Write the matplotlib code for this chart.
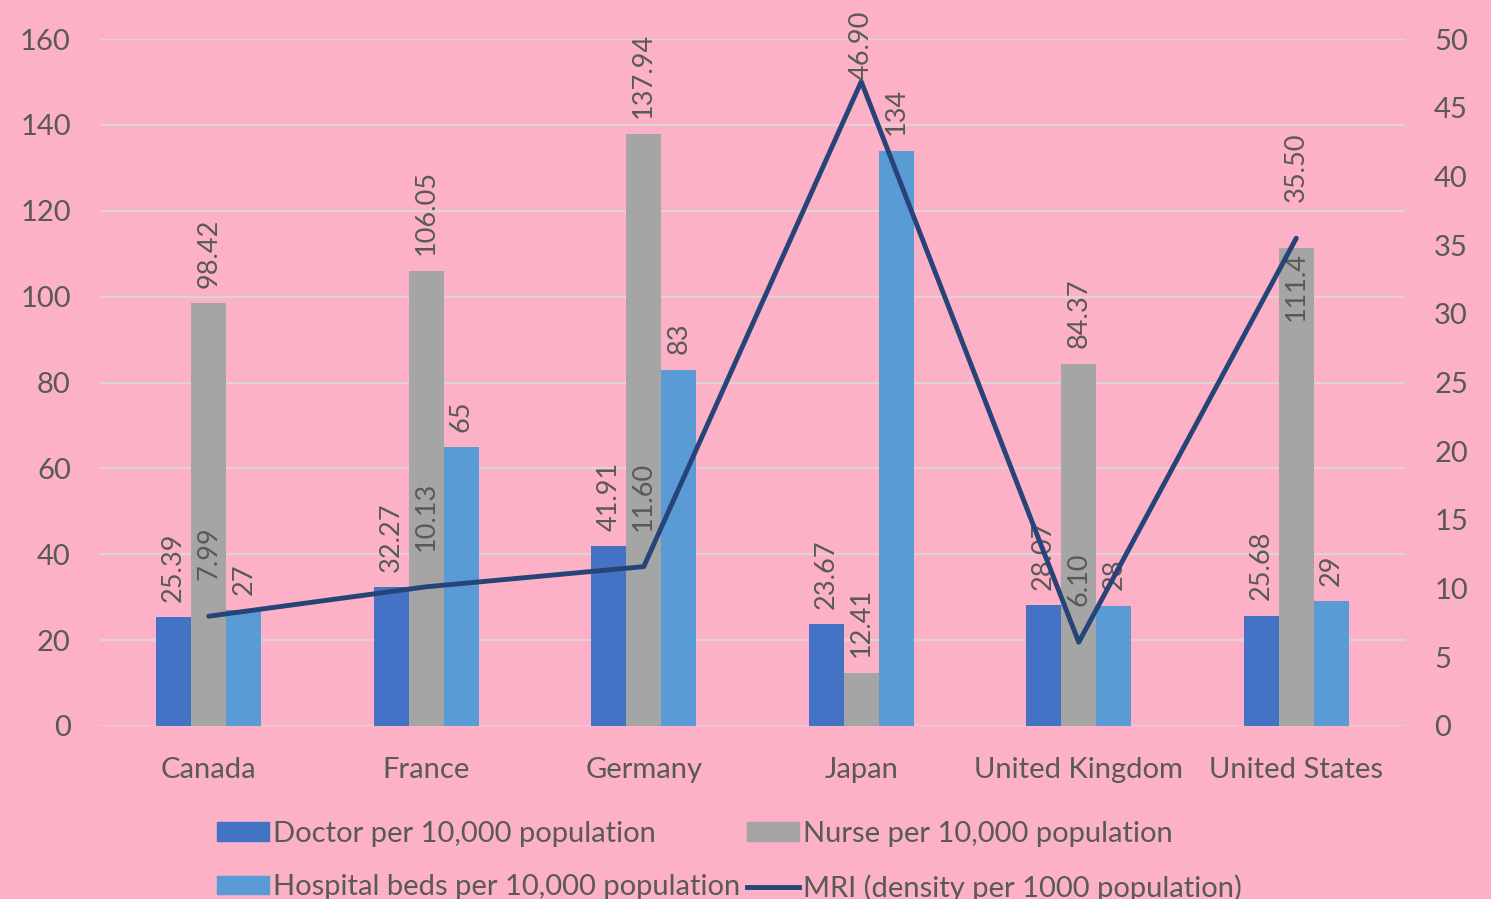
import matplotlib
matplotlib.use("Agg")
import matplotlib.pyplot as plt
import numpy as np
from matplotlib.patches import Patch
from matplotlib.lines import Line2D

countries = ["Canada", "France", "Germany", "Japan", "United Kingdom", "United States"]
doctors = [25.39, 32.27, 41.91, 23.67, 28.07, 25.68]
nurses = [98.42, 106.05, 137.94, 12.41, 84.37, 111.4]
beds = [27, 65, 83, 134, 28, 29]
mri = [7.99, 10.13, 11.60, 46.90, 6.10, 35.50]

doctor_labels = ["25.39", "32.27", "41.91", "23.67", "28.07", "25.68"]
nurse_labels = ["98.42", "106.05", "137.94", "12.41", "84.37", "111.4"]
bed_labels = ["27", "65", "83", "134", "28", "29"]
mri_labels = ["7.99", "10.13", "11.60", "46.90", "6.10", "35.50"]

BG = "#fcb1c6"
TXT = "#595959"
C_DOC = "#4472c4"
C_NUR = "#a5a5a5"
C_BED = "#5b9bd5"
C_MRI = "#264478"

plt.rcParams['font.family'] = ['Lato', 'DejaVu Sans']

fig = plt.figure(figsize=(14.91, 8.99), dpi=100, facecolor=BG)
ax = fig.add_axes([100/1491, 1-726/899, 1305/1491, (726-39)/899])
ax.set_facecolor(BG)
ax2 = ax.twinx()

x = np.arange(len(countries))
w = 0.161
ax.set_zorder(1)
ax2.set_zorder(2)
ax2.patch.set_visible(False)

b1 = ax.bar(x - w, doctors, w, color=C_DOC, zorder=3)
b2 = ax.bar(x, nurses, w, color=C_NUR, zorder=3)
b3 = ax.bar(x + w, beds, w, color=C_BED, zorder=3)

fs = 21
lfs = 19.5
# label placement: positive = above bar top, negative = inside bar (top-aligned)
nurse_off = [11, 11, 11, 11, 11, -3]
for bars, labs, offs in ((b1, doctor_labels, [11]*6), (b2, nurse_labels, nurse_off),
                         (b3, bed_labels, [11]*6)):
    for rect, lab, off in zip(bars, labs, offs):
        ax.annotate(lab, (rect.get_x() + rect.get_width()/2, rect.get_height()),
                    xytext=(0, off), textcoords="offset points", rotation=90,
                    ha="center", va="bottom" if off > 0 else "top",
                    fontsize=lfs, color=TXT, zorder=5)

ax2.plot(x, mri, color=C_MRI, lw=3.5, solid_capstyle="round", zorder=4)
mri_off = [26, 26, 26, 1, 26, 26]
for xi, v, lab, off in zip(x, mri, mri_labels, mri_off):
    ax2.annotate(lab, (xi, v), xytext=(0, off), textcoords="offset points", rotation=90,
                 ha="center", va="bottom", fontsize=lfs, color=TXT, zorder=5,
                 annotation_clip=False)

ax.set_xlim(-0.5, 5.5)
ax.set_ylim(0, 160)
ax2.set_ylim(0, 50)
ax.set_yticks(np.arange(0, 161, 20))
ax2.set_yticks(np.arange(0, 51, 5))
ax.set_xticks(x)
ax.set_xticklabels(countries)
ax.grid(axis="y", color="#d9d9d9", lw=1.3, zorder=0)
ax.set_axisbelow(True)
for a in (ax, ax2):
    for s in a.spines.values():
        s.set_visible(False)
ax.tick_params(axis="y", length=0, pad=21, labelsize=fs, labelcolor=TXT)
ax2.tick_params(axis="y", length=0, pad=21, labelsize=fs, labelcolor=TXT)
ax.tick_params(axis="x", length=0, pad=22, labelsize=fs, labelcolor=TXT)

handles = [Patch(color=C_DOC), Patch(color=C_BED), Patch(color=C_NUR),
           Line2D([0], [0], color=C_MRI, lw=3.5)]
labels = ["Doctor per 10,000 population", "Hospital beds per 10,000 population",
          "Nurse per 10,000 population", "MRI (density per 1000 population)"]
fig.legend(handles, labels, ncol=2, loc="upper left",
           bbox_to_anchor=(202/1491, 1-806/899), frameon=False, fontsize=fs,
           labelcolor=TXT, handlelength=1.8, handleheight=0.6, handletextpad=0.15,
           columnspacing=0.2, labelspacing=0.95, borderpad=0)

fig.savefig("out.png", dpi=100, facecolor=BG)
